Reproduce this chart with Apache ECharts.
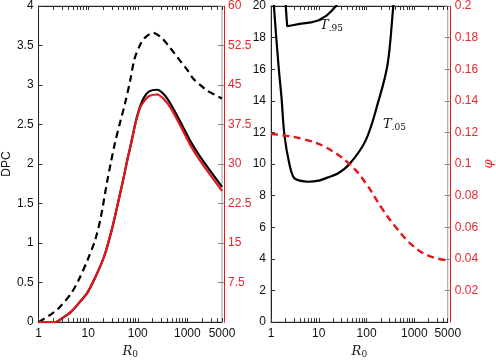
<!DOCTYPE html>
<html>
<head>
<meta charset="utf-8">
<script src="https://cdn.jsdelivr.net/npm/echarts@6/dist/echarts.min.js"></script>
<style>
  html, body { margin: 0; padding: 0; background: #fff; }
  #chart { width: 496px; height: 364px; }
</style>
</head>
<body>
<div id="chart"></div>
<script>
// left panel: DPC vs R0
var dashR0 = [1, 1.9, 2.5, 4.5, 6.5, 9.8, 14, 18, 24, 28.5, 34.5, 45, 54.6, 70, 86, 110, 135, 203, 300, 400, 550, 730, 1000, 1320, 2000, 2500, 5000];
var dashDPC = [0, 0.11, 0.17, 0.36, 0.54, 0.79, 1.05, 1.33, 1.77, 2.01, 2.26, 2.55, 2.75, 3.05, 3.33, 3.5, 3.59, 3.66, 3.6, 3.51, 3.4, 3.3, 3.19, 3.08, 2.98, 2.93, 2.83];

var solidR0 = [1, 1.5, 2.2, 3, 4.5, 6.5, 9.8, 14, 21, 30, 39, 50, 62, 71, 93, 113, 136, 170, 245, 339, 460, 730, 1150, 1820, 3000, 5000];
var solidDPC = [0, 0, 0, 0.05, 0.13, 0.24, 0.38, 0.57, 0.83, 1.17, 1.48, 1.78, 2.06, 2.22, 2.56, 2.74, 2.85, 2.92, 2.94, 2.88, 2.76, 2.53, 2.29, 2.09, 1.9, 1.71];
var redR0 = [1, 1.5, 2.2, 3, 4.5, 6.5, 9.8, 14, 21, 30, 39, 50, 62, 71, 93, 113, 136, 170, 245, 339, 460, 730, 1150, 1820, 3000, 5000];
// red curve is read on the right-hand axis (0 - 60)
var redVal = [0, 0, 0, 0.75, 1.95, 3.6, 5.7, 8.55, 12.45, 17.55, 22.2, 26.7, 30.9, 33.3, 38.25, 40.8, 42.0, 42.9, 43.2, 42.3, 40.65, 37.2, 33.6, 30.6, 27.75, 24.9];

// right panel: T.05 / T.95 and phi
var t05R0 = [1.12, 1.15, 1.44, 1.66, 1.9, 2.4, 3.0, 4, 6, 10, 15, 25, 44, 96, 174, 275, 363, 375];
var t05Val = [21, 20, 16.2, 14.2, 11.9, 10.06, 9.14, 8.95, 8.88, 8.95, 9.14, 9.4, 10.0, 11.5, 13.9, 16.3, 20, 20.4];
var t95R0 = [1.98, 2.18, 3, 4, 6.9, 10, 14.5, 18, 23, 24];
var t95Val = [20.5, 18.72, 18.8, 18.87, 18.96, 19.1, 19.39, 19.65, 20, 20.1];
var phiR0 = [1, 2, 4.4, 13.2, 44, 96, 209, 436, 955, 2090, 5000];
var phiVal = [0.119, 0.118, 0.116, 0.111, 0.100, 0.088, 0.072, 0.059, 0.048, 0.0417, 0.039];

var xLabels = [1, 10, 100, 1000, 5000];
var xTicks = [1, 2, 3, 4, 5, 6, 7, 8, 9, 10, 20, 30, 40, 50, 60, 70, 80, 90,
  100, 200, 300, 400, 500, 600, 700, 800, 900, 1000, 2000, 3000, 4000, 5000];

var FONT = 'Liberation Sans, Arial, Helvetica, sans-serif';
var RED = '#e3161c';
var LABEL_RED = '#e8262a';

function pairs(xs, ys) {
    return xs.map(function(x, i) { return [x, ys[i]]; });
}

function xAxisFor(grid, pos) {
    var bottom = pos === 'bottom';
    return {
        type: 'log', logBase: 10, min: 1, max: 5000,
        gridIndex: grid, position: pos,
        name: bottom ? '{r|R}{s|0}' : '',
        nameLocation: 'middle', nameGap: 21,
        nameTextStyle: {
            rich: {
                r: { fontFamily: 'DejaVu Serif, serif', fontStyle: 'italic', fontSize: 13, color: '#222' },
                s: { fontFamily: 'DejaVu Serif, serif', fontSize: 9, color: '#222', verticalAlign: 'bottom', padding: [6, 0, 0, 0] }
            }
        },
        axisLine: { onZero: false, lineStyle: { color: '#222', width: 1 } },
        axisTick: { inside: true, length: 4, customValues: xTicks, lineStyle: { color: '#333' } },
        axisLabel: {
            show: bottom, customValues: xLabels, margin: 6,
            color: '#111', fontSize: 12, fontFamily: FONT,
            formatter: function(v) { return String(Math.round(v)); }
        },
        splitLine: { show: false }
    };
}

var myChart = echarts.init(document.getElementById('chart'), null, { renderer: 'canvas' });
var option = {
    animation: false,
    grid: [
        { left: 36, top: 5, width: 186, height: 326, show: true, borderColor: '#999', borderWidth: 1 },
        { left: 271, top: 5, width: 185, height: 326, show: true, borderColor: '#999', borderWidth: 1 }
    ],
    xAxis: [
        xAxisFor(0, 'bottom'),
        xAxisFor(0, 'top'),
        xAxisFor(1, 'bottom'),
        xAxisFor(1, 'top')
    ],
    yAxis: [
        {
            type: 'value', gridIndex: 0, position: 'left', min: 0, max: 4, interval: 0.5,
            name: 'DPC', nameLocation: 'middle', nameGap: 24,
            nameTextStyle: { color: '#111', fontSize: 12, fontFamily: FONT },
            axisLine: { show: true, lineStyle: { color: '#222' } },
            axisTick: { show: true, inside: true, length: 4, lineStyle: { color: '#333' } },
            axisLabel: { color: '#111', fontSize: 12, fontFamily: FONT, margin: 5 },
            splitLine: { show: false }
        },
        {
            type: 'value', gridIndex: 0, position: 'right', offset: 2, min: 0, max: 60, interval: 7.5,
            axisLine: { show: true, lineStyle: { color: RED } },
            axisTick: { show: true, inside: true, length: 6, lineStyle: { color: '#888' } },
            axisLabel: { color: LABEL_RED, fontSize: 12, fontFamily: FONT, margin: 4, showMinLabel: false },
            splitLine: { show: false }
        },
        {
            type: 'value', gridIndex: 1, position: 'left', min: 0, max: 20, interval: 2,
            axisLine: { show: true, lineStyle: { color: '#222' } },
            axisTick: { show: true, inside: true, length: 4, lineStyle: { color: '#333' } },
            axisLabel: { color: '#111', fontSize: 12, fontFamily: FONT, margin: 5 },
            splitLine: { show: false }
        },
        {
            type: 'value', gridIndex: 1, position: 'right', offset: 3, min: 0, max: 0.2, interval: 0.02,
            name: 'φ', nameLocation: 'middle', nameGap: 28,
            nameTextStyle: { color: LABEL_RED, fontSize: 13, fontStyle: 'italic', fontFamily: 'DejaVu Serif, serif' },
            axisLine: { show: true, lineStyle: { color: RED } },
            axisTick: { show: true, inside: true, length: 6, lineStyle: { color: '#888' } },
            axisLabel: { color: LABEL_RED, fontSize: 12, fontFamily: FONT, margin: 4, showMinLabel: false },
            splitLine: { show: false }
        }
    ],
    graphic: [
        {
            type: 'text', left: 320, top: 19,
            style: {
                text: '{t|T}{s|.95}',
                rich: {
                    t: { fontFamily: 'DejaVu Serif, serif', fontStyle: 'italic', fontSize: 13, fill: '#111' },
                    s: { fontFamily: 'DejaVu Serif, serif', fontSize: 9, fill: '#111', padding: [6, 0, 0, 0] }
                }
            }
        },
        {
            type: 'text', left: 383, top: 118,
            style: {
                text: '{t|T}{s|.05}',
                rich: {
                    t: { fontFamily: 'DejaVu Serif, serif', fontStyle: 'italic', fontSize: 13, fill: '#111' },
                    s: { fontFamily: 'DejaVu Serif, serif', fontSize: 9, fill: '#111', padding: [6, 0, 0, 0] }
                }
            }
        }
    ],
    series: [
        {
            type: 'line', xAxisIndex: 0, yAxisIndex: 0, data: pairs(dashR0, dashDPC),
            smooth: 0.3, showSymbol: false, clip: true,
            lineStyle: { color: '#000', width: 2.2, type: [7, 4.5] }
        },
        {
            type: 'line', xAxisIndex: 0, yAxisIndex: 0, data: pairs(solidR0, solidDPC),
            smooth: 0.3, showSymbol: false, clip: true,
            lineStyle: { color: '#000', width: 2.2 }
        },
        {
            type: 'line', xAxisIndex: 0, yAxisIndex: 1, data: pairs(redR0, redVal),
            smooth: 0.3, showSymbol: false, clip: true,
            lineStyle: { color: RED, width: 2.2 }
        },
        {
            type: 'line', xAxisIndex: 2, yAxisIndex: 2, data: pairs(t05R0, t05Val),
            smooth: 0.35, showSymbol: false, clip: true,
            lineStyle: { color: '#000', width: 2.2 }
        },
        {
            type: 'line', xAxisIndex: 2, yAxisIndex: 2, data: pairs(t95R0, t95Val),
            smooth: false, showSymbol: false, clip: true,
            lineStyle: { color: '#000', width: 2.2 }
        },
        {
            type: 'line', xAxisIndex: 2, yAxisIndex: 3, data: pairs(phiR0, phiVal),
            smooth: 0.4, showSymbol: false, clip: true,
            lineStyle: { color: RED, width: 2.4, type: [7, 4.5] }
        }
    ]
};
myChart.setOption(option);
</script>
</body>
</html>
